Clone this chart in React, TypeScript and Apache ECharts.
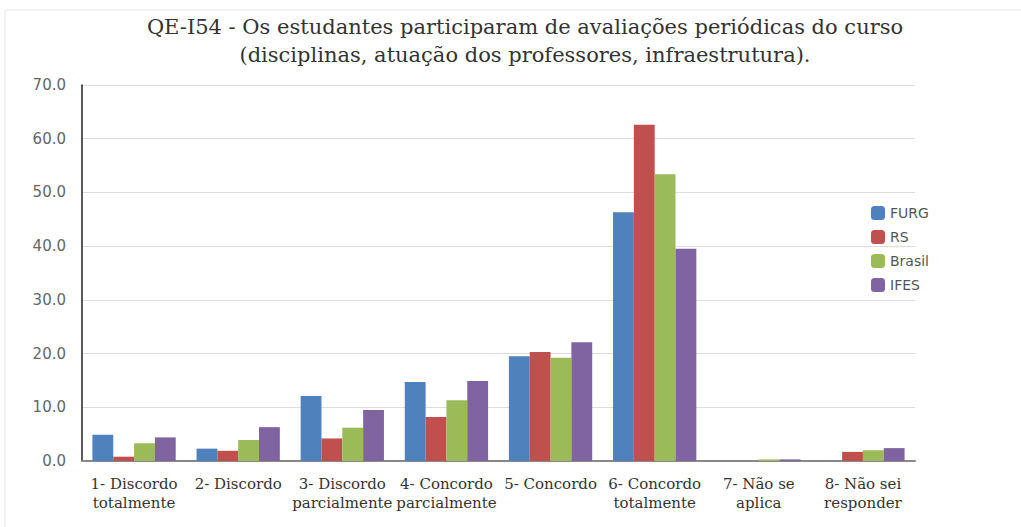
import React, { useEffect, useRef } from "react";
import * as echarts from "echarts";

const categories = [
  "1- Discordo\ntotalmente",
  "2- Discordo",
  "3- Discordo\nparcialmente",
  "4- Concordo\nparcialmente",
  "5- Concordo",
  "6- Concordo\ntotalmente",
  "7- Não se\naplica",
  "8- Não sei\nresponder",
];
const furg = [4.9, 2.3, 12.1, 14.7, 19.5, 46.3, 0.0, 0.0];
const rs = [0.8, 1.9, 4.2, 8.2, 20.3, 62.6, 0.0, 1.7];
const brasil = [3.3, 3.9, 6.2, 11.3, 19.2, 53.4, 0.3, 2.0];
const ifes = [4.4, 6.3, 9.5, 14.9, 22.1, 39.5, 0.3, 2.4];
const seriesNames = ["FURG", "RS", "Brasil", "IFES"];
const colors = ["#4F81BD", "#C0504D", "#9BBB59", "#8064A2"];
const titleText =
  "QE-I54 - Os estudantes participaram de avaliações periódicas do curso\n(disciplinas, atuação dos professores, infraestrutura).";

export default function App() {
  const ref = useRef<HTMLDivElement>(null);
  useEffect(() => {
    document.body.style.margin = "0";
    if (!ref.current) return;
    const chart = echarts.init(ref.current, null, { renderer: "svg" });
    const data = [furg, rs, brasil, ifes];
    chart.setOption({
      animation: false,
      backgroundColor: "#ffffff",
      title: {
        text: titleText,
        left: 520,
        textAlign: "center",
        top: 8,
        textStyle: {
          fontFamily: "DejaVu Serif",
          fontWeight: "normal",
          fontSize: 21,
          lineHeight: 28,
          color: "#333333",
        },
      },
      graphic: [
        {
          type: "rect",
          shape: { x: 5, y: 10, width: 1030, height: 530 },
          style: { fill: "none", stroke: "#e6e6e6", lineWidth: 1 },
          silent: true,
        },
      ],
      legend: {
        orient: "vertical",
        left: 866,
        top: 201,
        itemWidth: 14,
        itemHeight: 14,
        itemGap: 10,
        data: seriesNames,
        textStyle: {
          fontFamily: "DejaVu Sans",
          fontSize: 14,
          color: "#555555",
        },
      },
      grid: { left: 82, right: 106, top: 85, bottom: 66, containLabel: false },
      xAxis: {
        type: "category",
        data: categories,
        axisTick: { show: false },
        axisLine: { lineStyle: { color: "#888888", width: 2 } },
        axisLabel: {
          interval: 0,
          fontFamily: "DejaVu Serif",
          fontSize: 15,
          lineHeight: 19,
          color: "#333333",
          margin: 13,
        },
      },
      yAxis: {
        type: "value",
        min: 0,
        max: 70,
        interval: 10,
        axisLine: { show: true, lineStyle: { color: "#222222", width: 1.5 } },
        axisTick: { show: false },
        splitLine: { lineStyle: { color: "#dddddd", width: 1 } },
        axisLabel: {
          formatter: (v: number) => v.toFixed(1),
          fontFamily: "DejaVu Sans",
          fontSize: 15,
          color: "#666666",
          margin: 16,
        },
      },
      series: seriesNames.map((name, i) => ({
        name,
        type: "bar",
        data: data[i],
        barGap: "0%",
        barCategoryGap: "20%",
        itemStyle: { color: colors[i] },
      })),
    });
    return () => chart.dispose();
  }, []);
  return <div ref={ref} style={{ width: 1021, height: 527 }} />;
}
